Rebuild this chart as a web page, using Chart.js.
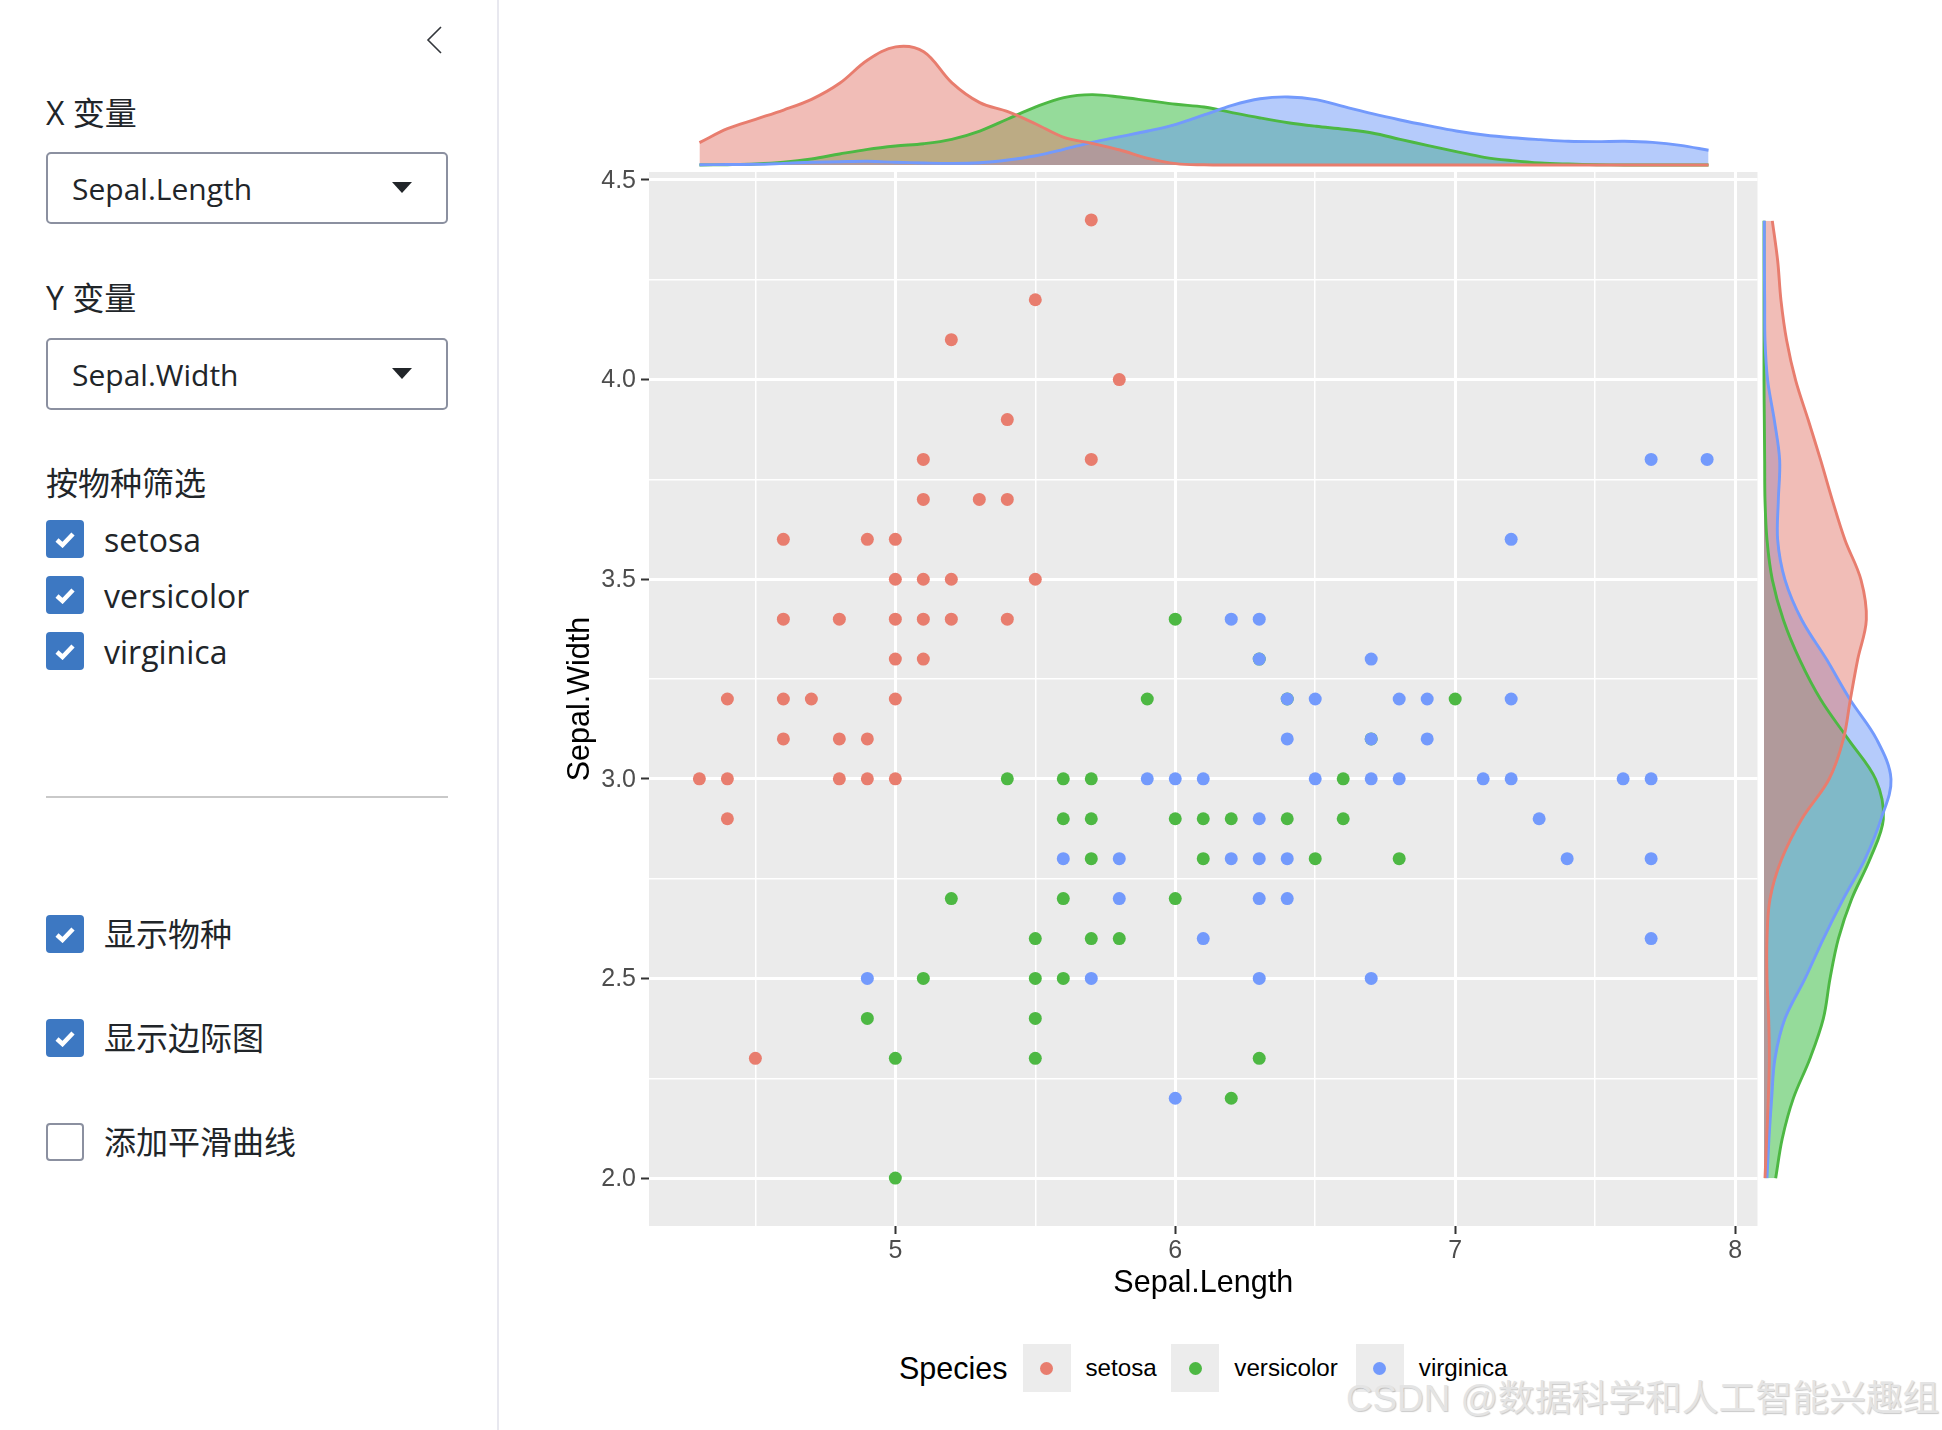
<!DOCTYPE html>
<html lang="zh">
<head>
<meta charset="utf-8">
<title>Iris</title>
<script src="https://cdn.jsdelivr.net/npm/chart.js@4"></script>
<style>
  html, body { margin: 0; padding: 0; background: #fff; }
  body { position: relative; width: 1942px; height: 1430px; overflow: hidden;
         font-family: "Open Sans", "Noto Sans CJK SC", sans-serif; color: #212529; }
  canvas { position: absolute; display: block; }
  .abs { position: absolute; white-space: nowrap; line-height: 1; }
  .sep { position: absolute; left: 497px; top: 0; width: 2px; height: 1430px; background: #e8e8ef; }
  .hr { position: absolute; left: 46px; top: 796px; width: 402px; height: 2px; background: #c9c9c9; }
  .label { font-size: 32px; transform: translateY(-50%); left: 46px; }
  .select { position: absolute; left: 46px; width: 398px; height: 68px; border: 2px solid #8b90a0; border-radius: 5px; }
  .select span { position: absolute; left: 24px; top: calc(50% + 1px); transform: translateY(-50%); font-size: 30px; line-height: 1; }
  .select i { position: absolute; left: 344px; top: 28px; width: 0; height: 0;
              border-left: 10px solid transparent; border-right: 10px solid transparent; border-top: 11px solid #212529; }
  .check { position: absolute; left: 46px; width: 38px; height: 38px; border-radius: 4px; background: #3d78c2; }
  .check svg { position: absolute; left: 8px; top: 10px; }
  .check.off { background: #fff; box-sizing: border-box; border: 2px solid #8b90a0; }
  .check-text { left: 104px; font-size: 32px; transform: translateY(-50%); }
  .legend { position: absolute; left: 899px; top: 1344px; height: 48px; display: flex; align-items: center;
            font-family: "Liberation Sans", sans-serif; color: #000; }
  .legend b { font-weight: 400; font-size: 30.5px; margin-right: 15px; }
  .legend .key { position: relative; width: 48px; height: 48px; background: #ececec; margin-right: 15px; }
  .legend .key i { position: absolute; left: 17.5px; top: 17.5px; width: 13px; height: 13px; border-radius: 50%; }
  .legend .name { font-size: 24.2px; }
  .mark { left: 1346px; top: 1381px; font: 36.8px/1 "Liberation Sans", "Noto Sans CJK SC", sans-serif;
          color: #e4e4e4; text-shadow: 1px 1px 1px rgba(120,120,120,.4); }
</style>
</head>
<body>
<div class="sep"></div>
<svg class="abs" style="left:425px;top:25px" width="18" height="30"><polyline points="16,2 3,15 16,28" fill="none" stroke="#33363b" stroke-width="1.6"/></svg>

<div class="abs label" style="top:113px">X 变量</div>
<div class="select" style="top:152px"><span>Sepal.Length</span><i></i></div>
<div class="abs label" style="top:298px">Y 变量</div>
<div class="select" style="top:338px"><span>Sepal.Width</span><i></i></div>
<div class="abs label" style="top:483px">按物种筛选</div>
<div id="filters"></div>
<div class="hr"></div>
<div id="options"></div>

<canvas id="mainChart" style="left:562px;top:151px" width="1202" height="1151"></canvas>
<canvas id="topChart" style="left:649px;top:0" width="1110" height="172"></canvas>
<canvas id="rightChart" style="left:1759px;top:173px" width="183" height="1053"></canvas>

<div class="legend" id="legend"><b>Species</b></div>
<div class="abs mark">CSDN @数据科学和人工智能兴趣组</div>

<script>
// categories
const speciesNames = ['setosa', 'versicolor', 'virginica'];
const optionNames = ['显示物种', '显示边际图', '添加平滑曲线'];
const xTickLabels = ['5', '6', '7', '8'];
const yTickLabels = ['2.0', '2.5', '3.0', '3.5', '4.0', '4.5'];

// scatter values
const setosaX = [5.7, 5.5, 5.2, 5.8, 5.4, 5.1, 5.7, 5.1, 5.3, 5.4, 4.6, 4.9, 5.0, 5.0, 5.1, 5.2, 5.5, 4.6, 4.8, 5.0, 5.1, 5.2, 5.4, 5.0, 5.1, 4.4, 4.6, 4.7, 5.0, 4.6, 4.8, 4.9, 4.3, 4.4, 4.8, 4.9, 5.0, 4.4, 4.5];
const setosaY = [4.4, 4.2, 4.1, 4.0, 3.9, 3.8, 3.8, 3.7, 3.7, 3.7, 3.6, 3.6, 3.6, 3.5, 3.5, 3.5, 3.5, 3.4, 3.4, 3.4, 3.4, 3.4, 3.4, 3.3, 3.3, 3.2, 3.2, 3.2, 3.2, 3.1, 3.1, 3.1, 3.0, 3.0, 3.0, 3.0, 3.0, 2.9, 2.3];
const versicolorX = [6.0, 6.3, 5.9, 6.4, 7.0, 6.7, 5.4, 5.6, 5.7, 6.6, 5.6, 5.7, 6.0, 6.1, 6.2, 6.4, 6.6, 5.7, 6.1, 6.5, 6.8, 5.2, 5.6, 6.0, 5.5, 5.7, 5.8, 5.1, 5.5, 5.6, 4.9, 5.5, 5.0, 5.5, 6.3, 6.2, 5.0];
const versicolorY = [3.4, 3.3, 3.2, 3.2, 3.2, 3.1, 3.0, 3.0, 3.0, 3.0, 2.9, 2.9, 2.9, 2.9, 2.9, 2.9, 2.9, 2.8, 2.8, 2.8, 2.8, 2.7, 2.7, 2.7, 2.6, 2.6, 2.6, 2.5, 2.5, 2.5, 2.4, 2.4, 2.3, 2.3, 2.3, 2.2, 2.0];
const virginicaX = [7.7, 7.9, 7.2, 6.2, 6.3, 6.3, 6.7, 6.4, 6.5, 6.8, 6.9, 7.2, 6.4, 6.7, 6.9, 5.9, 6.0, 6.1, 6.5, 6.7, 6.8, 7.1, 7.2, 7.6, 7.7, 6.3, 7.3, 5.6, 5.8, 6.2, 6.3, 6.4, 7.4, 7.7, 5.8, 6.3, 6.4, 6.1, 7.7, 4.9, 5.7, 6.3, 6.7, 6.0];
const virginicaY = [3.8, 3.8, 3.6, 3.4, 3.4, 3.3, 3.3, 3.2, 3.2, 3.2, 3.2, 3.2, 3.1, 3.1, 3.1, 3.0, 3.0, 3.0, 3.0, 3.0, 3.0, 3.0, 3.0, 3.0, 3.0, 2.9, 2.9, 2.8, 2.8, 2.8, 2.8, 2.8, 2.8, 2.8, 2.7, 2.7, 2.7, 2.6, 2.6, 2.5, 2.5, 2.5, 2.5, 2.2];

// top marginal: density along Sepal.Length
const topGrid = [4.3, 4.4, 4.5, 4.6, 4.7, 4.8, 4.9, 5.0, 5.1, 5.2, 5.3, 5.4, 5.5, 5.6, 5.7, 5.8, 5.9, 6.0, 6.1, 6.2, 6.3, 6.4, 6.5, 6.6, 6.7, 6.8, 6.9, 7.0, 7.1, 7.2, 7.3, 7.4, 7.5, 7.6, 7.7, 7.8, 7.9];
const topSetosa = [0.231, 0.375, 0.472, 0.568, 0.678, 0.844, 1.085, 1.22, 1.17, 0.851, 0.644, 0.551, 0.424, 0.286, 0.224, 0.155, 0.069, 0.014, 0.002, 0, 0, 0, 0, 0, 0, 0, 0, 0, 0, 0, 0, 0, 0, 0, 0, 0, 0];
const topVersicolor = [0, 0.003, 0.01, 0.028, 0.062, 0.114, 0.162, 0.196, 0.22, 0.265, 0.351, 0.475, 0.6, 0.696, 0.727, 0.703, 0.665, 0.627, 0.599, 0.541, 0.486, 0.437, 0.4, 0.369, 0.331, 0.265, 0.2, 0.138, 0.079, 0.045, 0.021, 0.01, 0.003, 0, 0, 0, 0];
const topVirginica = [0.002, 0.005, 0.007, 0.017, 0.028, 0.034, 0.038, 0.028, 0.021, 0.017, 0.024, 0.052, 0.096, 0.162, 0.234, 0.293, 0.351, 0.42, 0.517, 0.617, 0.685, 0.703, 0.675, 0.603, 0.53, 0.465, 0.406, 0.351, 0.31, 0.282, 0.262, 0.245, 0.241, 0.245, 0.234, 0.203, 0.152];

// right marginal: density along Sepal.Width
const rightGrid = [2.0, 2.1, 2.2, 2.3, 2.4, 2.5, 2.6, 2.7, 2.8, 2.9, 3.0, 3.1, 3.2, 3.3, 3.4, 3.5, 3.6, 3.7, 3.8, 3.9, 4.0, 4.1, 4.2, 4.3, 4.4];
const rightSetosa = [0.009, 0.024, 0.039, 0.048, 0.042, 0.027, 0.027, 0.054, 0.159, 0.339, 0.585, 0.714, 0.777, 0.843, 0.921, 0.873, 0.729, 0.615, 0.51, 0.399, 0.285, 0.204, 0.153, 0.123, 0.075];
const rightVersicolor = [0.105, 0.165, 0.264, 0.414, 0.534, 0.594, 0.669, 0.789, 0.954, 1.074, 1.005, 0.759, 0.51, 0.321, 0.174, 0.075, 0.027, 0.009, 0.006, 0.003, 0, 0, 0, 0, 0];
const rightVirginica = [0.027, 0.045, 0.069, 0.099, 0.189, 0.369, 0.534, 0.714, 0.909, 1.053, 1.143, 1.014, 0.774, 0.564, 0.339, 0.189, 0.123, 0.129, 0.141, 0.093, 0.033, 0.009, 0.006, 0.003, 0.003];

const pointColors = ['#e87d6e', '#4db843', '#739afc'];
const fillColors = ['rgba(227,123,111,0.5)', 'rgba(43,183,53,0.5)', 'rgba(107,151,247,0.5)'];
const X_RANGE = { min: 4.12, max: 8.08 };
const Y_RANGE = { min: 1.88, max: 4.52 };
const checkIcon = '<svg width="22" height="18"><polyline points="3,10 8.5,15 19,4" fill="none" stroke="#fff" stroke-width="4.5"/></svg>';

// sidebar checkboxes
const filterTops = [520, 576, 632];
const optionTops = [915, 1019, 1123];
speciesNames.forEach((name, i) => {
  const top = filterTops[i];
  document.getElementById('filters').insertAdjacentHTML('beforeend',
    `<div class="check" style="top:${top}px">${checkIcon}</div><div class="abs check-text" style="top:${top + 20}px">${name}</div>`);
});
optionNames.forEach((name, i) => {
  const top = optionTops[i];
  const off = i === 2;
  document.getElementById('options').insertAdjacentHTML('beforeend',
    `<div class="check${off ? ' off' : ''}" style="top:${top}px">${off ? '' : checkIcon}</div><div class="abs check-text" style="top:${top + 19}px">${name}</div>`);
});

// legend strip
const legendGaps = [14.5, 18, 0];
speciesNames.forEach((name, i) => {
  document.getElementById('legend').insertAdjacentHTML('beforeend',
    `<div class="key"><i style="background:${pointColors[i]}"></i></div><div class="name" style="margin-right:${legendGaps[i]}px">${name}</div>`);
});

Chart.defaults.animation = false;
Chart.defaults.responsive = false;
Chart.defaults.font.family = '"Liberation Sans", sans-serif';
Chart.defaults.plugins.legend.display = false;
Chart.defaults.plugins.tooltip.enabled = false;
// all fills go down before any outline, the outlines stay vivid
Chart.defaults.plugins.filler.drawTime = 'beforeDatasetsDraw';

const zip = (xs, ys) => xs.map((x, i) => ({ x, y: ys[i] }));

// ggplot grey panel behind the grid
const panelBackground = {
  id: 'panelBackground',
  beforeDraw(chart) {
    const { ctx, chartArea: a } = chart;
    ctx.save();
    ctx.fillStyle = '#ebebeb';
    ctx.fillRect(a.left, a.top, a.right - a.left, a.bottom - a.top);
    ctx.restore();
  }
};

const isMajorX = v => Number.isInteger(v);
const isMajorY = v => Number.isInteger(v * 2);

new Chart(document.getElementById('mainChart'), {
  type: 'scatter',
  plugins: [panelBackground],
  data: {
    datasets: [
      { label: speciesNames[0], data: zip(setosaX, setosaY), backgroundColor: pointColors[0], order: 3 },
      { label: speciesNames[1], data: zip(versicolorX, versicolorY), backgroundColor: pointColors[1], order: 2 },
      { label: speciesNames[2], data: zip(virginicaX, virginicaY), backgroundColor: pointColors[2], order: 1 }
    ]
  },
  options: {
    layout: { padding: { top: 21, right: 4 } },
    elements: { point: { radius: 6.5, borderWidth: 0 } },
    scales: {
      x: {
        ...X_RANGE,
        afterFit: scale => { scale.height = 76; },
        border: { display: false },
        grid: {
          color: '#fff',
          lineWidth: ctx => (isMajorX(ctx.tick.value) ? 3 : 1.5),
          tickColor: ctx => (isMajorX(ctx.tick.value) ? '#333' : 'transparent'),
          tickWidth: 2,
          tickLength: 8
        },
        ticks: {
          stepSize: 0.5,
          includeBounds: false,
          autoSkip: false,
          maxRotation: 0,
          padding: 2,
          color: '#4d4d4d',
          font: { size: 25 },
          callback: v => (xTickLabels.includes(String(v)) ? String(v) : '')
        },
        title: { display: true, text: 'Sepal.Length', color: '#000', font: { size: 30.5 }, padding: 0 }
      },
      y: {
        ...Y_RANGE,
        afterFit: scale => { scale.width = 87; },
        border: { display: false },
        grid: {
          color: '#fff',
          lineWidth: ctx => (isMajorY(ctx.tick.value) ? 3 : 1.5),
          tickColor: ctx => (isMajorY(ctx.tick.value) ? '#333' : 'transparent'),
          tickWidth: 2,
          tickLength: 8
        },
        ticks: {
          stepSize: 0.25,
          includeBounds: false,
          autoSkip: false,
          padding: 5,
          labelOffset: 1,
          color: '#4d4d4d',
          font: { size: 25 },
          callback: v => (yTickLabels.includes(v.toFixed(1)) && isMajorY(v) ? v.toFixed(1) : '')
        },
        title: { display: true, text: 'Sepal.Width', color: '#000', font: { size: 30.5 }, padding: 0 }
      }
    }
  }
});

// line datasets drawn versicolor, then virginica, then setosa on top
const densityDatasets = (setosa, versicolor, virginica) => [
  { label: speciesNames[0], data: setosa, borderColor: pointColors[0], backgroundColor: fillColors[0], order: 1 },
  { label: speciesNames[1], data: versicolor, borderColor: pointColors[1], backgroundColor: fillColors[1], order: 3 },
  { label: speciesNames[2], data: virginica, borderColor: pointColors[2], backgroundColor: fillColors[2], order: 2 }
].map(d => ({ ...d, fill: 'origin', borderWidth: 2.9, pointRadius: 0, tension: 0.35 }));

new Chart(document.getElementById('topChart'), {
  type: 'line',
  data: { datasets: densityDatasets(zip(topGrid, topSetosa), zip(topGrid, topVersicolor), zip(topGrid, topVirginica)) },
  options: {
    scales: {
      x: { type: 'linear', ...X_RANGE, display: false },
      y: { min: -0.0723, max: 1.7045, display: false }
    }
  }
});

new Chart(document.getElementById('rightChart'), {
  type: 'line',
  data: {
    datasets: densityDatasets(
      rightGrid.map((y, i) => ({ x: rightSetosa[i], y })),
      rightGrid.map((y, i) => ({ x: rightVersicolor[i], y })),
      rightGrid.map((y, i) => ({ x: rightVirginica[i], y }))
    )
  },
  options: {
    indexAxis: 'y',
    scales: {
      x: { type: 'linear', min: -0.045, max: 1.602, display: false },
      y: { type: 'linear', ...Y_RANGE, display: false }
    }
  }
});
</script>
</body>
</html>
